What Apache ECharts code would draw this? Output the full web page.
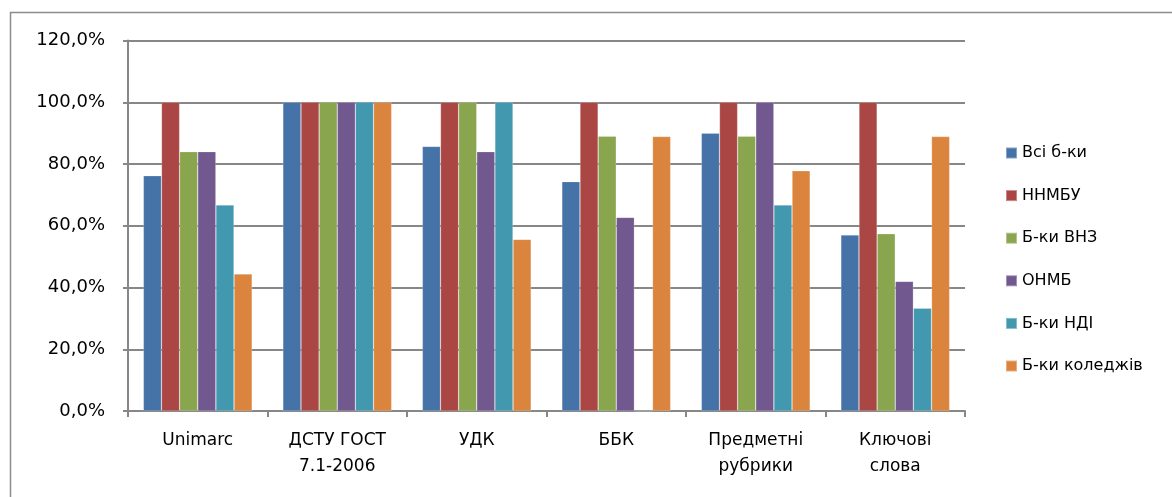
<!DOCTYPE html>
<html>
<head>
<meta charset="utf-8">
<script src="https://cdn.jsdelivr.net/npm/echarts@6/dist/echarts.min.js"></script>
<style>
html,body{margin:0;padding:0;background:#fff;}
#chart{width:1172px;height:497px;}
</style>
</head>
<body>
<div id="chart"></div>
<script>
var categories = ['Unimarc', 'ДСТУ ГОСТ\n7.1-2006', 'УДК', 'ББК', 'Предметні\nрубрики', 'Ключові\nслова'];
var seriesNames = ['Всі б-ки', 'ННМБУ', 'Б-ки ВНЗ', 'ОНМБ', 'Б-ки НДІ', 'Б-ки коледжів'];
var vsiBky     = [0.762, 1.0, 0.857, 0.743, 0.90, 0.57];
var nnmbu      = [1.0, 1.0, 1.0, 1.0, 1.0, 1.0];
var bkyVnz     = [0.84, 1.0, 1.0, 0.89, 0.89, 0.574];
var onmb       = [0.84, 1.0, 0.84, 0.627, 1.0, 0.42];
var bkyNdi     = [0.667, 1.0, 1.0, 0, 0.667, 0.333];
var bkyKoledzh = [0.444, 1.0, 0.556, 0.889, 0.778, 0.889];
var yTicks = [0, 0.2, 0.4, 0.6, 0.8, 1.0, 1.2];

var colors = ['#4572A7', '#AA4643', '#89A54E', '#71588F', '#4198AF', '#DB843D'];
var allData = [vsiBky, nnmbu, bkyVnz, onmb, bkyNdi, bkyKoledzh];
var fontFam = 'DejaVu Sans';

var chart = echarts.init(document.getElementById('chart'), null, {renderer: 'canvas'});
var series = seriesNames.map(function (n, i) {
  return {
    name: n,
    type: 'bar',
    data: allData[i],
    barGap: '0%',
    barCategoryGap: '22%',
    itemStyle: {color: colors[i], borderColor: 'rgba(255,255,255,0.35)', borderWidth: 0.6},
    emphasis: {disabled: true}
  };
});

chart.setOption({
  animation: false,
  backgroundColor: '#ffffff',
  color: colors,
  graphic: [{
    type: 'polyline',
    shape: {points: [[10.5, 497], [10.5, 12.5], [1172, 12.5]]},
    style: {stroke: '#8c8c8c', lineWidth: 1.5, fill: null},
    silent: true
  }],
  grid: {left: 128, right: 207, top: 40.5, bottom: 86, containLabel: false},
  legend: {
    orient: 'vertical',
    left: 1000,
    top: 138,
    itemWidth: 11,
    itemHeight: 11,
    itemGap: 22.6,
    icon: 'rect',
    data: seriesNames,
    textStyle: {fontFamily: fontFam, fontSize: 16, color: '#000', lineHeight: 20}
  },
  xAxis: {
    type: 'category',
    data: categories,
    axisLine: {lineStyle: {color: '#878787', width: 2}},
    axisTick: {show: true, alignWithLabel: false, length: 6, lineStyle: {color: '#878787', width: 2}},
    axisLabel: {fontFamily: fontFam, fontSize: 17, color: '#000', margin: 17, lineHeight: 26, interval: 0}
  },
  yAxis: {
    type: 'value',
    min: 0,
    max: 1.2,
    interval: 0.2,
    axisLine: {show: true, lineStyle: {color: '#878787', width: 2}},
    axisTick: {show: true, length: 5, lineStyle: {color: '#878787', width: 2}},
    splitLine: {show: true, lineStyle: {color: '#878787', width: 2}},
    axisLabel: {
      fontFamily: fontFam, fontSize: 18, color: '#000', margin: 23,
      formatter: function (v) {
        var t = yTicks.find(function (x) { return Math.abs(x - v) < 1e-9; });
        if (t === undefined) t = v;
        return (t * 100).toFixed(1).replace('.', ',') + '%';
      }
    }
  },
  series: series
});
</script>
</body>
</html>
